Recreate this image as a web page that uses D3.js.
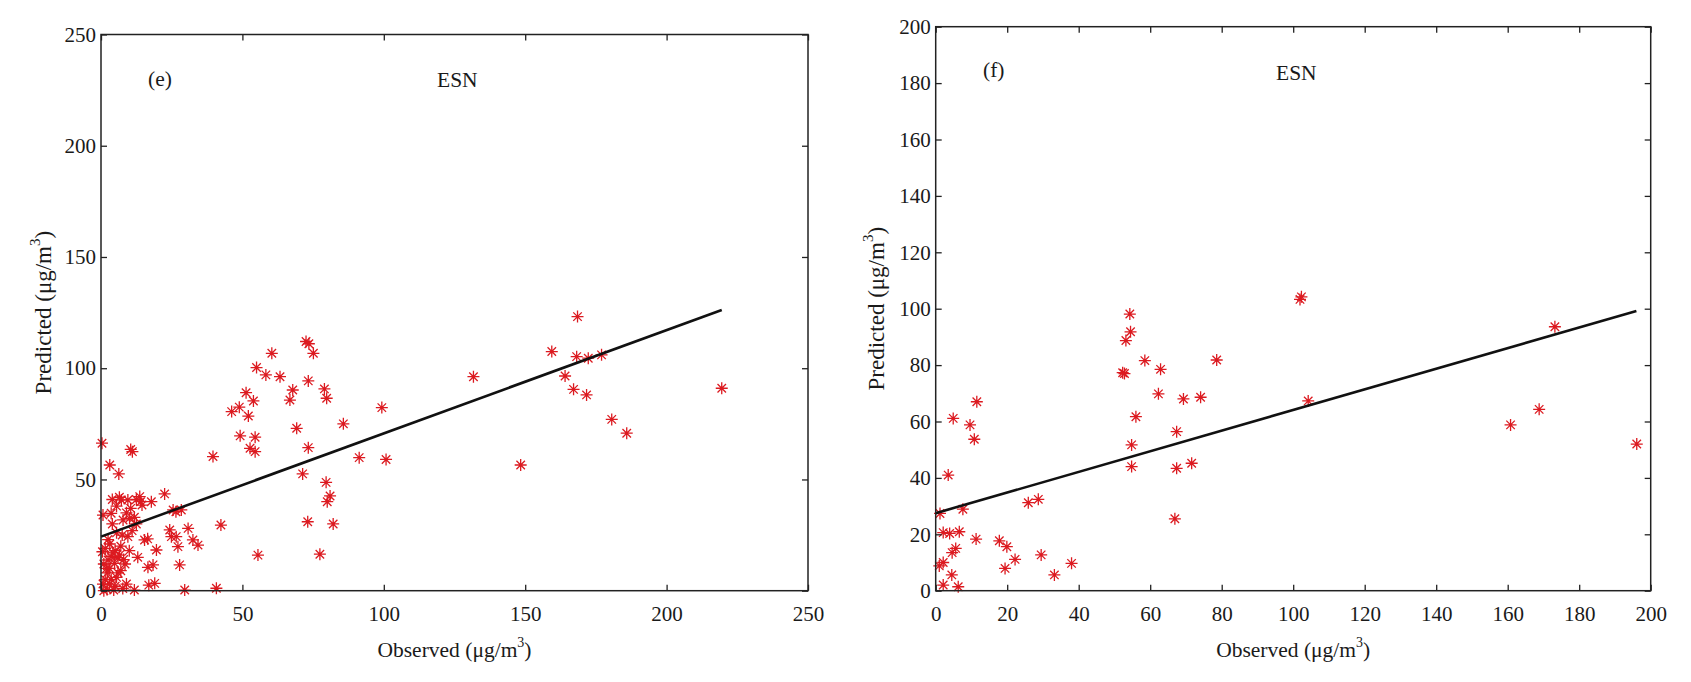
<!DOCTYPE html>
<html>
<head>
<meta charset="utf-8">
<script src="https://cdn.jsdelivr.net/npm/d3@7"></script>
<style>
  html, body { margin: 0; padding: 0; background: #fff; }
  svg { display: block; }
  text { font-family: "Liberation Serif", "Times New Roman", serif; fill: #1a1a1a; }
</style>
</head>
<body>
<svg id="chart" width="1691" height="682"></svg>
<script>
// ---------- data (panel e) ----------
const eObserved = [
  60.4, 72.5, 73.5, 75.1, 55.0, 58.3, 63.3, 73.3, 67.8, 79.0, 79.8, 66.8, 51.3, 53.9, 48.9, 46.2, 52.1, 99.3, 85.7, 69.2,
  49.2, 54.5, 52.7, 54.5, 73.3, 91.3, 100.8, 39.6, 71.3, 79.6, 81.0, 80.0, 73.1, 82.1, 42.4, 55.5, 77.4, 29.6, 40.8,
  131.7, 148.4, 159.4, 164.1, 167.1, 168.5, 168.2, 172.3, 171.7, 177.0, 180.6, 185.9, 219.5,
  0.35, 11.1, 10.5, 3.1, 6.3, 22.5, 13.7, 12.5, 7.2, 9.5, 5.5, 17.8, 14.5, 3.6, 0.7, 10.1, 11.8, 7.8, 9.0, 12.5,
  25.5, 28.4, 26.5, 30.8, 24.3, 24.9, 26.6, 27.2, 32.5, 34.3, 15.4, 16.5, 9.5, 19.6, 3.1, 5.5, 4.0, 27.8, 18.4, 16.6,
  19.0, 16.9, 11.8, 7.7, 2.1, 1.0, 3.6, 6.0, 4.8, 2.5, 4.2, 2.2, 6.0, 3.6, 0.7, 5.0, 1.5, 0.5, 2.0, 8.5,
  10.0, 7.0, 4.5, 9.0,
  1.5, 3.0, 5.5, 7.0, 1.0, 3.0, 5.0, 6.5, 8.0, 2.5, 7.5, 11.0, 13.0, 14.0, 10.5, 6.5, 4.0
];
const ePredicted = [
  106.7, 112.0, 111.0, 106.7, 100.3, 97.0, 96.2, 94.3, 90.2, 90.7, 86.5, 85.7, 89.0, 85.3, 82.5, 80.5, 78.5, 82.3, 75.0, 73.0,
  69.6, 69.0, 64.0, 62.5, 64.3, 59.8, 59.0, 60.3, 52.5, 48.7, 42.6, 40.0, 31.0, 30.0, 29.5, 16.0, 16.4, 0.3, 1.1,
  96.2, 56.5, 107.5, 96.5, 90.5, 123.2, 105.2, 104.5, 88.0, 106.0, 77.0, 70.8, 91.0,
  66.3, 62.5, 63.5, 56.5, 52.5, 43.5, 42.3, 41.0, 40.8, 40.8, 38.0, 40.0, 38.5, 34.8, 34.0, 32.5, 33.0, 31.8, 35.0, 30.0,
  36.3, 36.3, 35.5, 28.0, 27.3, 24.3, 24.3, 19.8, 22.8, 20.5, 22.8, 23.3, 24.3, 18.3, 21.0, 26.0, 30.0, 11.6, 11.6, 10.5,
  3.3, 2.5, 0.3, 1.0, 0.5, 0.0, 15.3, 14.8, 12.3, 13.8, 17.0, 8.0, 8.0, 5.0, 3.0, 2.0, 19.0, 17.5, 10.0, 12.0,
  18.0, 20.0, 0.3, 3.0,
  5.0, 3.0, 6.0, 9.0, 12.0, 10.0, 18.0, 16.0, 14.0, 23.0, 25.0, 27.0, 15.0, 40.0, 37.0, 42.0, 41.0
];
const eFitX = [0, 219.5];
const eFitY = [24.3, 126.2];
const eTicks = [0, 50, 100, 150, 200, 250];

// ---------- data (panel f) ----------
const fObserved = [
  54.3, 54.5, 53.2, 101.9, 102.3, 78.6, 58.5, 62.9, 52.3, 52.8, 62.3, 69.3, 74.1, 104.2, 56.0, 67.4, 54.8, 54.8, 67.4, 71.6,
  66.9, 173.2, 160.8, 168.8, 196.1,
  4.9, 9.6, 10.8, 11.5, 3.5, 1.2, 7.6, 25.9, 28.7, 2.1, 3.9, 6.6, 11.3, 17.8, 19.9, 5.6, 4.6, 22.2, 29.5, 19.4,
  33.2, 38.0, 1.0, 2.1, 4.5, 6.3, 2.1
];
const fPredicted = [
  98.1, 91.8, 88.7, 103.3, 104.2, 81.8, 81.6, 78.5, 77.3, 77.0, 69.8, 68.0, 68.6, 67.3, 61.7, 56.4, 51.7, 44.0, 43.4, 45.2,
  25.5, 93.6, 58.8, 64.3, 52.0,
  61.1, 58.8, 53.7, 67.0, 41.0, 27.4, 28.9, 31.2, 32.4, 20.6, 20.3, 20.9, 18.3, 17.7, 15.6, 15.0, 13.5, 11.1, 12.7, 7.9,
  5.6, 9.7, 8.8, 10.0, 5.6, 1.4, 2.0
];
const fFitX = [0, 196];
const fFitY = [27.5, 99.2];
const fXTicks = [0, 20, 40, 60, 80, 100, 120, 140, 160, 180, 200];
const fYTicks = [0, 20, 40, 60, 80, 100, 120, 140, 160, 180, 200];

const panelTags = ["(e)", "(f)"];
const modelName = "ESN";

// ---------- layout ----------
const svg = d3.select("#chart");
svg.append("rect").attr("width", 1691).attr("height", 682).attr("fill", "#fff");

const panels = [
  { left: 101, right: 808, top: 34.5, bottom: 590.7, xDom: [0, 250], yDom: [0, 250],
    xTicks: eTicks, yTicks: eTicks, obs: eObserved, pred: ePredicted, fitX: eFitX, fitY: eFitY,
    tag: panelTags[0], tagX: 148, tagY: 86, nameX: 437, nameY: 87, yLabelX: 51 },
  { left: 935.7, right: 1650.7, top: 26.7, bottom: 590.7, xDom: [0, 200], yDom: [0, 200],
    xTicks: fXTicks, yTicks: fYTicks, obs: fObserved, pred: fPredicted, fitX: fFitX, fitY: fFitY,
    tag: panelTags[1], tagX: 983, tagY: 77, nameX: 1276, nameY: 80, yLabelX: 884 }
];

const r = 6, d = r * 0.7071;
const asterisk = `M${-r},0H${r}M0,${-r}V${r}M${-d},${-d}L${d},${d}M${-d},${d}L${d},${-d}`;

panels.forEach(p => {
  const x = d3.scaleLinear().domain(p.xDom).range([p.left, p.right]);
  const y = d3.scaleLinear().domain(p.yDom).range([p.bottom, p.top]);
  const g = svg.append("g");

  // points
  g.append("g").selectAll("path").data(p.obs.map((o, i) => [o, p.pred[i]])).join("path")
    .attr("d", asterisk)
    .attr("transform", v => `translate(${x(v[0])},${y(v[1])})`)
    .attr("fill", "none").attr("stroke", "#dc1a20").attr("stroke-width", 1.3);

  // fit line
  g.append("path")
    .attr("d", d3.line()([[x(p.fitX[0]), y(p.fitY[0])], [x(p.fitX[1]), y(p.fitY[1])]]))
    .attr("stroke", "#111").attr("stroke-width", 2.6).attr("fill", "none");

  const fontSize = 21;
  const style = sel => {
    sel.select(".domain").remove();
    sel.selectAll(".tick line").attr("stroke", "#222").attr("stroke-width", 1.3);
    sel.selectAll("text").attr("font-size", fontSize)
      .attr("font-family", '"Liberation Serif", "Times New Roman", serif').attr("fill", "#1a1a1a");
  };
  g.append("g").attr("transform", `translate(0,${p.bottom})`)
    .call(d3.axisBottom(x).tickValues(p.xTicks).tickSize(-6).tickPadding(15).tickFormat(d3.format("d"))).call(style);
  g.append("g").attr("transform", `translate(${p.left},0)`)
    .call(d3.axisLeft(y).tickValues(p.yTicks).tickSize(-6).tickPadding(5).tickFormat(d3.format("d"))).call(style);
  g.append("g").attr("transform", `translate(0,${p.top})`)
    .call(d3.axisTop(x).tickValues(p.xTicks).tickSize(-6).tickFormat("")).call(style);
  g.append("g").attr("transform", `translate(${p.right},0)`)
    .call(d3.axisRight(y).tickValues(p.yTicks).tickSize(-6).tickFormat("")).call(style);

  // box
  g.append("rect").attr("x", p.left).attr("y", p.top)
    .attr("width", p.right - p.left).attr("height", p.bottom - p.top)
    .attr("fill", "none").attr("stroke", "#222").attr("stroke-width", 1.5);

  // annotations
  g.append("text").attr("x", p.tagX).attr("y", p.tagY).attr("font-size", 21.5).text(p.tag);
  g.append("text").attr("x", p.nameX).attr("y", p.nameY).attr("font-size", 21.5).text(modelName);

  // x label
  const xl = g.append("text").attr("x", (p.left + p.right) / 2).attr("y", 657)
    .attr("text-anchor", "middle").attr("font-size", 21.5);
  xl.append("tspan").text("Observed (μg/m");
  xl.append("tspan").attr("font-size", 14).attr("dy", -10).text("3");
  xl.append("tspan").attr("dy", 10).text(")");

  // y label
  const yl = g.append("text")
    .attr("transform", `translate(${p.yLabelX},${(p.top + p.bottom) / 2}) rotate(-90)`)
    .attr("text-anchor", "middle").attr("font-size", 23);
  yl.append("tspan").text("Predicted (μg/m");
  yl.append("tspan").attr("font-size", 15).attr("dy", -11).text("3");
  yl.append("tspan").attr("dy", 11).text(")");
});
</script>
</body>
</html>
